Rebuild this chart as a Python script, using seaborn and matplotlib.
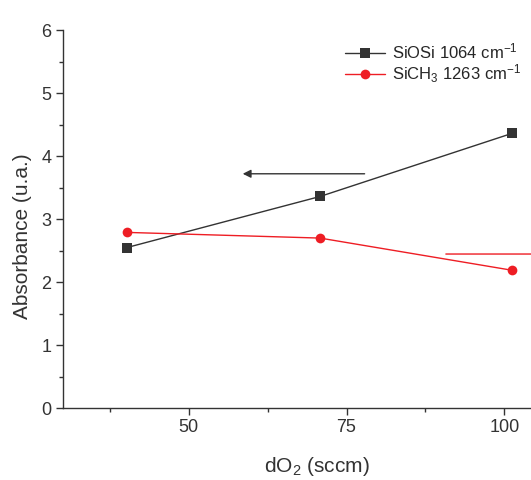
import seaborn as sns
import matplotlib.pyplot as plt
import pandas as pd
from matplotlib.ticker import MultipleLocator

# values
dO2 = [40.2, 70.8, 101.2]
siosi = [2.55, 3.36, 4.36]
sich3 = [2.79, 2.70, 2.19]
labels = ["SiOSi 1064 cm$^{-1}$", "SiCH$_3$ 1263 cm$^{-1}$"]

df = pd.DataFrame({"dO2": dO2, "SiOSi": siosi, "SiCH3": sich3})

sns.set_theme(style="ticks")
plt.rcParams['font.family'] = ['Liberation Sans', 'DejaVu Sans']
plt.rcParams['mathtext.fontset'] = 'custom'
plt.rcParams['mathtext.rm'] = 'Liberation Sans'
plt.rcParams['mathtext.it'] = 'Liberation Sans'

fig = plt.figure(figsize=(5.31, 4.8), dpi=100)
ax = fig.add_axes([0.118, 0.1494, 0.9505, 0.788])

sns.lineplot(data=df, x="dO2", y="SiOSi", ax=ax, color="#333333", lw=1,
             marker="s", markersize=6.5, markeredgewidth=0, label=labels[0])
sns.lineplot(data=df, x="dO2", y="SiCH3", ax=ax, color="#ee1d24", lw=1,
             marker="o", markersize=7, markeredgewidth=0, label=labels[1])

# arrows pointing to each axis
ax.annotate("", xy=(58.1, 3.72), xytext=(78.3, 3.72),
            arrowprops=dict(arrowstyle="-|>", color="#333333", lw=1,
                            mutation_scale=12))
ax.annotate("", xy=(118, 2.447), xytext=(90.3, 2.447),
            arrowprops=dict(arrowstyle="-|>", color="#ee1d24", lw=1,
                            mutation_scale=12), annotation_clip=False)

ax.set_xlim(30, 110)
ax.set_ylim(0, 6)
ax.xaxis.set_major_locator(MultipleLocator(25))
ax.xaxis.set_minor_locator(MultipleLocator(12.5))
ax.yaxis.set_major_locator(MultipleLocator(1))
ax.yaxis.set_minor_locator(MultipleLocator(0.5))
ax.tick_params(which="major", length=5, width=1, labelsize=13, pad=3,
               color="#333333", labelcolor="#333333")
ax.tick_params(which="minor", length=3, width=1, color="#333333")
for s in ["left", "bottom"]:
    ax.spines[s].set_color("#333333")
    ax.spines[s].set_linewidth(1)
sns.despine(ax=ax, top=True, right=True)

ax.set_xlabel("dO$_2$ (sccm)", fontsize=15, color="#333333")
ax.set_ylabel("Absorbance (u.a.)", fontsize=15, color="#333333")
ax.xaxis.set_label_coords(0.503, -0.124)
ax.yaxis.set_label_coords(-0.06, 0.455)

ax.legend(loc="upper left", bbox_to_anchor=(345 / 531, 1 - 42 / 480),
          bbox_transform=fig.transFigure, frameon=False, fontsize=12,
          handlelength=2.4, handletextpad=0.4, labelspacing=0.05,
          borderaxespad=0, borderpad=0)

fig.savefig("out.png", dpi=100)
